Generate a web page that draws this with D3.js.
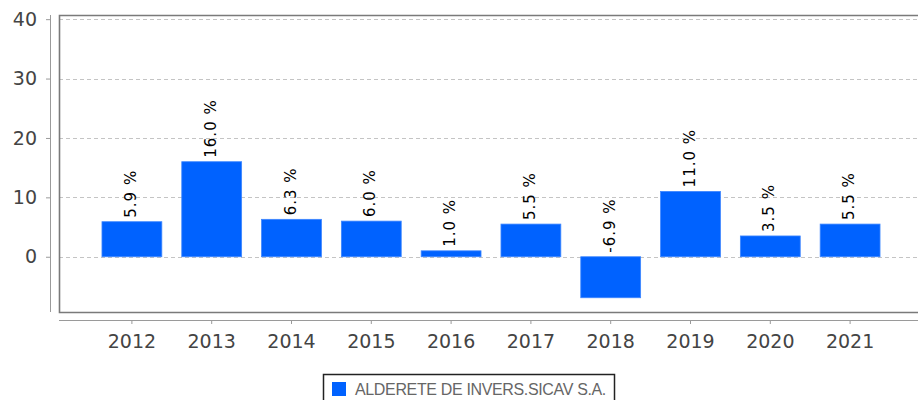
<!DOCTYPE html>
<html>
<head>
<meta charset="utf-8">
<script src="https://cdn.jsdelivr.net/npm/d3@7"></script>
<style>
  html, body { margin: 0; padding: 0; background: #fff; }
  svg { display: block; }
</style>
</head>
<body>
<div id="chart"></div>
<script>
// data
const years = ['2012', '2013', '2014', '2015', '2016', '2017', '2018', '2019', '2020', '2021']
const returns = [5.9, 16.0, 6.3, 6.0, 1.0, 5.5, -6.9, 11.0, 3.5, 5.5]
const yTicks = [0, 10, 20, 30, 40]
const seriesName = 'ALDERETE DE INVERS.SICAV S.A.'

const width = 918, height = 400
const plotLeft = 59, plotTop = 15, plotBottom = 312, plotRight = 930
const barColor = '#0062ff'

const svg = d3.select('#chart').append('svg')
  .attr('width', width)
  .attr('height', height)
  .attr('viewBox', [0, 0, width, height])

const x = d3.scaleBand()
  .domain(years)
  .range([92, 890])
  .paddingInner(0.25)
  .paddingOuter(0.125)

const y = d3.scaleLinear()
  .domain([-9.3, 40.7])
  .range([plotBottom, plotTop])

// gridlines
svg.append('g')
  .selectAll('line')
  .data(yTicks)
  .join('line')
    .attr('x1', plotLeft)
    .attr('x2', plotRight)
    .attr('y1', d => Math.round(y(d)) + 0.5)
    .attr('y2', d => Math.round(y(d)) + 0.5)
    .attr('stroke', '#c4c4c4')
    .attr('stroke-dasharray', '4,3')

// plot border
svg.append('path')
  .attr('d', `M${plotRight},${plotTop + 0.5}H${plotLeft + 0.5}V${plotBottom + 0.5}H${plotRight}`)
  .attr('fill', 'none')
  .attr('stroke', '#7a7a7a')
  .attr('stroke-width', 1.6)

// bars
svg.append('g')
  .selectAll('rect')
  .data(returns)
  .join('rect')
    .attr('x', (d, i) => x(years[i]))
    .attr('y', d => y(Math.max(d, 0)))
    .attr('width', x.bandwidth())
    .attr('height', d => Math.abs(y(d) - y(0)))
    .attr('fill', barColor)
    .attr('stroke', '#3d86ff')
    .attr('stroke-width', 0.8)

// value labels
svg.append('g')
  .selectAll('text')
  .data(returns)
  .join('text')
    .attr('transform', (d, i) => `translate(${x(years[i]) + x.bandwidth() / 2 - 1},${y(Math.max(d, 0)) - 4}) rotate(-90)`)
    .attr('dominant-baseline', 'central')
    .attr('font-family', 'DejaVu Sans')
    .attr('font-size', '15px')
    .attr('letter-spacing', '1px')
    .attr('fill', '#000')
    .text(d => d.toFixed(1) + ' %')

// y-axis
svg.append('g')
  .attr('transform', 'translate(50,0)')
  .call(d3.axisLeft(y).tickValues(yTicks).tickSize(4).tickPadding(9).tickSizeOuter(0))
  .call(g => g.select('.domain').attr('stroke', '#9a9a9a').attr('d', `M0.5,${plotTop}V${plotBottom}`))
  .call(g => g.selectAll('.tick line').attr('stroke', '#9a9a9a'))
  .call(g => g.selectAll('.tick text')
    .attr('font-family', 'DejaVu Sans')
    .attr('font-size', '19px')
    .attr('fill', '#444'))

// x-axis
svg.append('g')
  .attr('transform', 'translate(0,320)')
  .call(d3.axisBottom(x).tickSize(4).tickPadding(11).tickSizeOuter(0))
  .call(g => g.select('.domain').attr('stroke', '#9a9a9a').attr('d', `M${plotLeft},0.5H${plotRight}`))
  .call(g => g.selectAll('.tick line').attr('stroke', '#9a9a9a'))
  .call(g => g.selectAll('.tick text')
    .attr('font-family', 'DejaVu Sans')
    .attr('font-size', '19px')
    .attr('fill', '#444'))

// legend
const legend = svg.append('g')
legend.append('rect')
  .attr('x', 323.5)
  .attr('y', 374.5)
  .attr('width', 291)
  .attr('height', 30)
  .attr('fill', '#fff')
  .attr('stroke', '#222')
  .attr('stroke-width', 1.5)
legend.append('rect')
  .attr('x', 332)
  .attr('y', 382)
  .attr('width', 14)
  .attr('height', 14)
  .attr('fill', barColor)
legend.append('text')
  .attr('x', 355)
  .attr('y', 395)
  .attr('font-family', 'Liberation Sans')
  .attr('font-size', '16px')
  .attr('letter-spacing', '-0.35px')
  .attr('fill', '#666')
  .text(seriesName)
</script>
</body>
</html>
